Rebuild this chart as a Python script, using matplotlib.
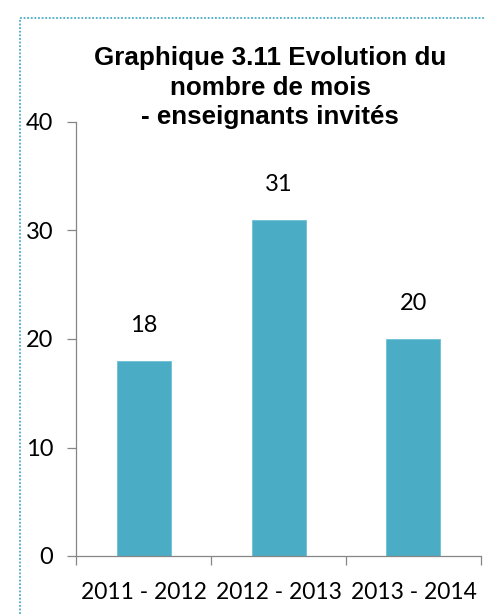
import numpy as np
import matplotlib.pyplot as plt
from matplotlib.lines import Line2D

# donnees du graphique
annees = ["2011 - 2012", "2012 - 2013", "2013 - 2014"]
nb_mois = [18, 31, 20]
titre = ["Graphique 3.11 Evolution du", "nombre de mois", "- enseignants invités"]
y_ticks = [0, 10, 20, 30, 40]

W, H = 487, 614
fig = plt.figure(figsize=(W / 100, H / 100), dpi=100)
ax = fig.add_axes([76 / W, 1 - 556 / H, (481 - 76) / W, (556 - 122) / H])

x = np.arange(len(annees))
bars = ax.bar(x, nb_mois, width=0.4, color="#4BACC6", edgecolor="#6CC0D6", linewidth=0.6)

for xi, v in zip(x, nb_mois):
    ax.annotate(str(v), (xi, v), xytext=(0, 29), textcoords="offset pixels",
                ha="center", va="baseline", fontsize=17, family="Lato")

ax.set_xlim(-0.5, len(annees) - 0.5)
ax.set_ylim(0, 40)
ax.set_yticks(y_ticks)
ax.set_yticklabels([str(t) for t in y_ticks], family="Lato", fontsize=17)
ax.set_xticks(x)
ax.set_xticklabels(annees, family="Lato", fontsize=16.5)
ax.set_xticks(np.arange(len(annees) + 1) - 0.5, minor=True)
ax.tick_params(axis="x", which="major", length=0, pad=19)
ax.tick_params(axis="x", which="minor", length=6.5, width=0.9, color="#868686")
ax.tick_params(axis="y", length=6.5, width=0.9, color="#868686", pad=10)

for s in ["top", "right"]:
    ax.spines[s].set_visible(False)
for s in ["left", "bottom"]:
    ax.spines[s].set_color("#868686")
    ax.spines[s].set_linewidth(0.9)

# titre
for ligne, yb in zip(titre, [65, 95, 124]):
    fig.text(270 / W, 1 - yb / H, ligne, ha="center", va="baseline",
             fontsize=18.7, fontweight="bold", family="Liberation Sans")

# bordure pointillee
bord = "#4BACC6"
fig.add_artist(Line2D([20 / W, 20 / W], [0, 1 - 18 / H], transform=fig.transFigure,
                      color=bord, linestyle=(0, (1, 1)), linewidth=1.3))
fig.add_artist(Line2D([20 / W, 485 / W], [1 - 18 / H, 1 - 18 / H], transform=fig.transFigure,
                      color=bord, linestyle=(0, (1, 1)), linewidth=1.3))

fig.savefig("out.png", dpi=100)
